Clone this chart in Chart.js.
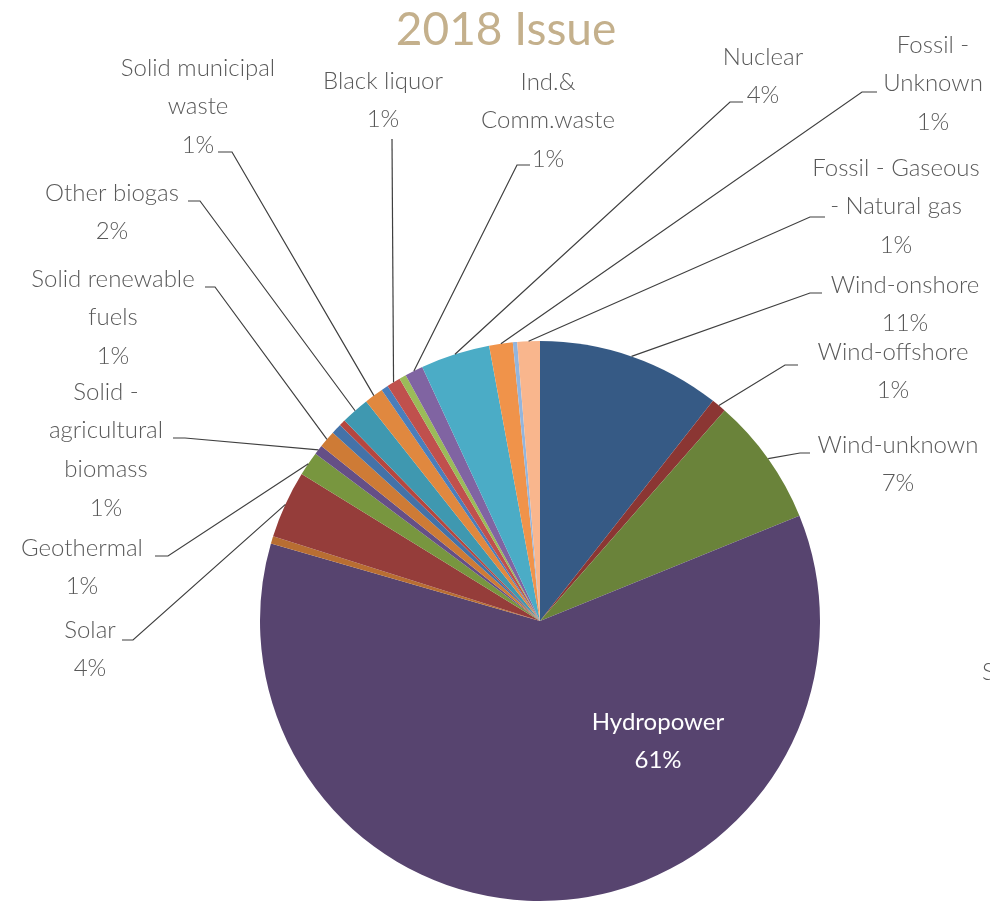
<!DOCTYPE html>
<html>
<head>
<meta charset="utf-8">
<script src="https://cdn.jsdelivr.net/npm/chart.js@4.4.1/dist/chart.umd.min.js"></script>
<style>
  html, body { margin: 0; background: #fff; }
</style>
</head>
<body>
<canvas id="pie" width="990" height="902"></canvas>
<script>
// shares in %, clockwise from 12 o'clock
const categories = [
  "Wind-onshore", "Wind-offshore", "Wind-unknown", "Hydropower",
  "Other 1", "Solar", "Geothermal", "Solid - agricultural biomass",
  "Solid renewable fuels", "Other 2", "Other 3", "Other biogas",
  "Solid municipal waste", "Other 4", "Black liquor", "Other 5",
  "Ind.& Comm.waste", "Nuclear", "Fossil - Unknown", "Other 6",
  "Fossil - Gaseous - Natural gas"
];
const shares = [
  10.6, 0.86, 7.4, 60.6,
  0.43, 3.9, 1.4, 0.55,
  1.0, 0.6, 0.36, 1.64,
  1.1, 0.4, 0.8, 0.4,
  1.05, 4.0, 1.36, 0.25,
  1.3
];
const title = "2018 Issue";

const colours = [
  "#365A85", "#8B3633", "#6A833A", "#57446F",
  "#B86E32", "#953D3A", "#78963F", "#654F86",
  "#CE7B36", "#4472A8", "#B6463F", "#3F98B0",
  "#E0883F", "#4A7EBB", "#C0504D", "#9BBB59",
  "#8064A2", "#4BACC6", "#F0934A", "#93B5DD",
  "#F9B68D"
];

// label placement: text lines, centre x, first line y, leader tick [start, elbow]
const labelLayout = {
  "Wind-onshore": { lines: ["Wind-onshore"], x: 905, y: 285, tick: [[822, 293], [810, 293]] },
  "Wind-offshore": { lines: ["Wind-offshore"], x: 893, y: 352, tick: [[798, 365], [785, 365]] },
  "Wind-unknown": { lines: ["Wind-unknown"], x: 898, y: 445, tick: [[810, 453], [800, 453]] },
  "Hydropower": { lines: ["Hydropower"], x: 658, y: 722, inside: true },
  "Solar": { lines: ["Solar"], x: 90, y: 630, tick: [[122, 640], [133, 640]] },
  "Geothermal": { lines: ["Geothermal"], x: 82, y: 548, tick: [[155, 556], [168, 556]] },
  "Solid - agricultural biomass": { lines: ["Solid -", "agricultural", "biomass"], x: 106, y: 392, tick: [[173, 438], [185, 438]] },
  "Solid renewable fuels": { lines: ["Solid renewable", "fuels"], x: 113, y: 279, tick: [[205, 287], [215, 287]] },
  "Other biogas": { lines: ["Other biogas"], x: 112, y: 193, tick: [[188, 201], [200, 201]] },
  "Solid municipal waste": { lines: ["Solid municipal", "waste"], x: 198, y: 68, tick: [[218, 152], [232, 152]] },
  "Black liquor": { lines: ["Black liquor"], x: 383, y: 81, tick: [[392, 139], [392, 139]] },
  "Ind.& Comm.waste": { lines: ["Ind.&", "Comm.waste"], x: 548, y: 82, tick: [[530, 165], [517, 165]] },
  "Nuclear": { lines: ["Nuclear"], x: 763, y: 57, tick: [[743, 102], [730, 102]] },
  "Fossil - Unknown": { lines: ["Fossil -", "Unknown"], x: 933, y: 45, tick: [[877, 92], [862, 92]] },
  "Fossil - Gaseous - Natural gas": { lines: ["Fossil - Gaseous", "- Natural gas"], x: 896, y: 168, tick: [[825, 217], [810, 217]] }
};

const lineH = 38.6;
const textFont = "300 24px Lato";

const pieLabels = {
  id: "pieLabels",
  afterDraw(chart) {
    const ctx = chart.ctx;
    const arcs = chart.getDatasetMeta(0).data;
    const total = shares.reduce((a, b) => a + b, 0);
    ctx.save();

    // title
    ctx.font = "46px Lato";
    ctx.fillStyle = "#C4B08C";
    ctx.textAlign = "center";
    ctx.textBaseline = "alphabetic";
    ctx.fillText(title, 506, 45);

    ctx.textBaseline = "middle";
    categories.forEach((name, i) => {
      const lay = labelLayout[name];
      if (!lay) return;
      const arc = arcs[i];
      const pct = Math.round(shares[i] / total * 100) + "%";
      const rows = lay.lines.concat([pct]);

      if (!lay.inside) {
        const mid = (arc.startAngle + arc.endAngle) / 2;
        const ex = arc.x + arc.outerRadius * Math.cos(mid);
        const ey = arc.y + arc.outerRadius * Math.sin(mid);
        ctx.strokeStyle = "#3f3f3f";
        ctx.lineWidth = 1.2;
        ctx.beginPath();
        ctx.moveTo(lay.tick[0][0], lay.tick[0][1]);
        ctx.lineTo(lay.tick[1][0], lay.tick[1][1]);
        ctx.lineTo(ex, ey);
        ctx.stroke();
      }

      ctx.font = lay.inside ? "24px Lato" : textFont;
      ctx.fillStyle = lay.inside ? "#ffffff" : "#595959";
      rows.forEach((t, k) => ctx.fillText(t, lay.x, lay.y + k * lineH));
    });

    // edge of the neighbouring chart, cut by the frame
    ctx.font = textFont;
    ctx.textAlign = "left";
    ctx.fillStyle = "#595959";
    ctx.fillText("S", 982, 672);
    ctx.restore();
  }
};

new Chart(document.getElementById("pie"), {
  type: "pie",
  data: {
    labels: categories,
    datasets: [{
      data: shares,
      backgroundColor: colours,
      borderWidth: 0,
      offset: 0,
      hoverOffset: 0
    }]
  },
  options: {
    responsive: false,
    devicePixelRatio: 1,
    animation: false,
    layout: { padding: { top: 341, bottom: 1, left: 260, right: 170 } },
    plugins: {
      legend: { display: false },
      title: { display: false },
      tooltip: { enabled: false }
    }
  },
  plugins: [pieLabels]
});
</script>
</body>
</html>
